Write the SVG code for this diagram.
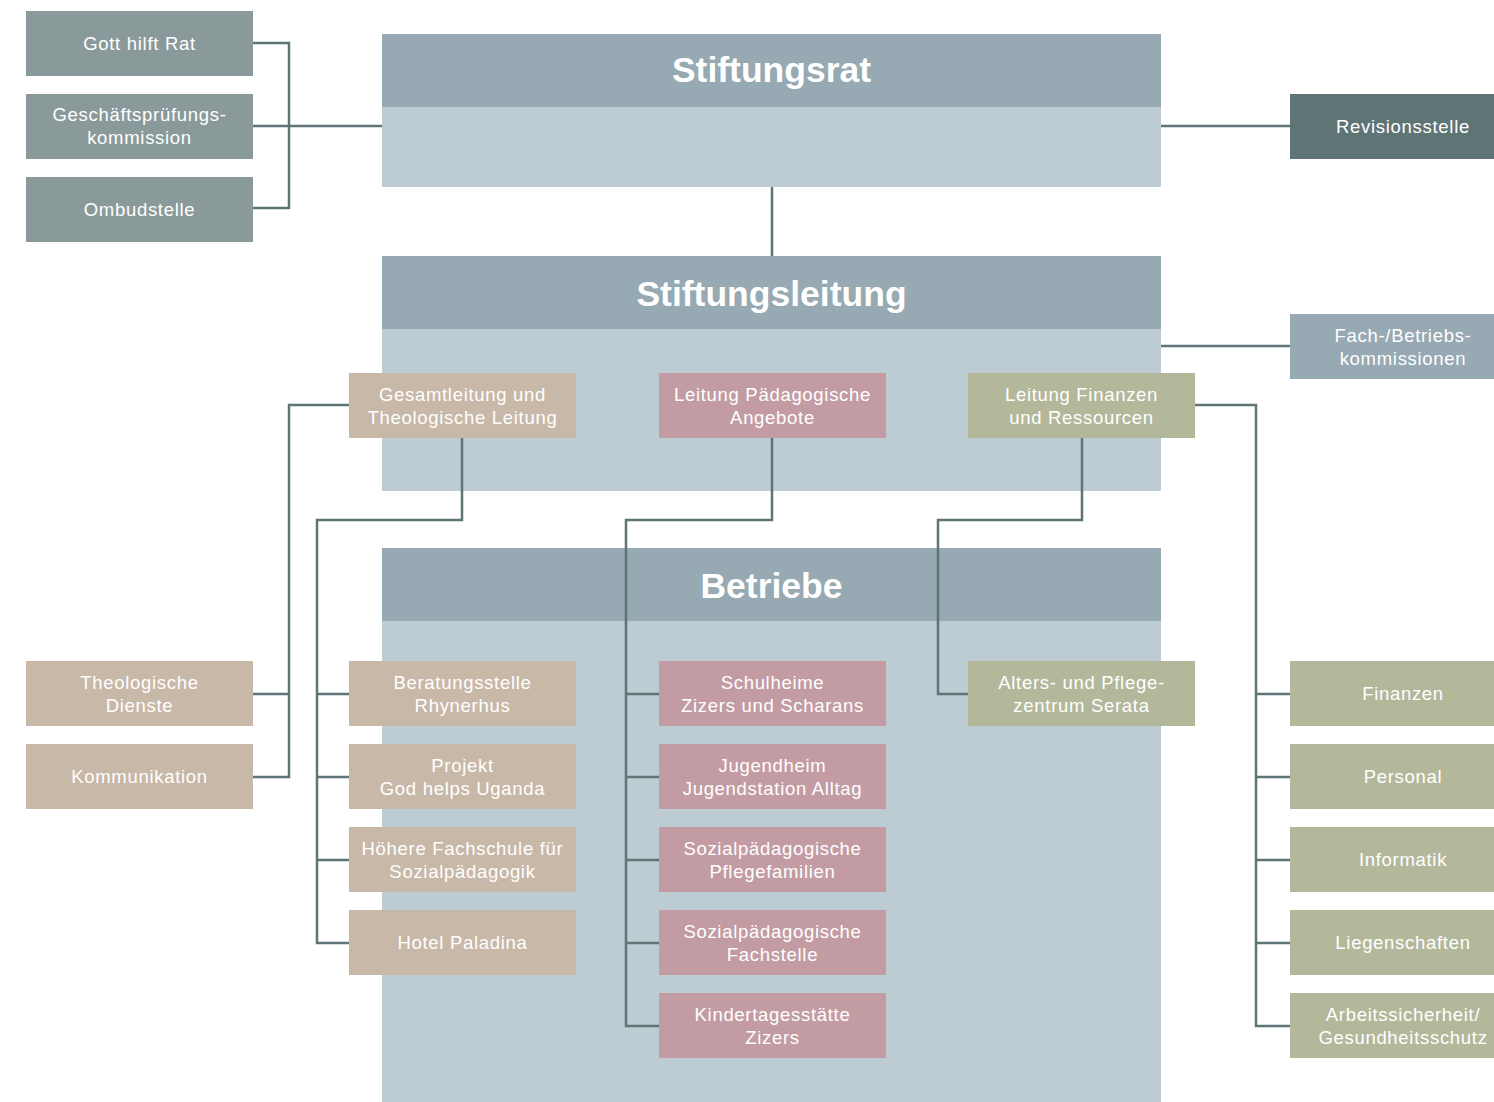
<svg xmlns="http://www.w3.org/2000/svg" width="1494" height="1102" viewBox="0 0 1494 1102">
<style>
.t{font-family:"Liberation Sans",Arial,sans-serif;font-size:18.5px;fill:#ffffff;text-anchor:middle;letter-spacing:0.7px}
.h{font-family:"Liberation Sans",Arial,sans-serif;font-size:35.5px;font-weight:bold;fill:#ffffff;text-anchor:middle}
.hd{fill:#97a9b2}.bd{fill:#bdcbd3}
.g{fill:#8a9a9b}.b{fill:#c8b8a8}.p{fill:#c39ca3}.o{fill:#b3b89b}.d{fill:#5f7475}.f{fill:#97a9b2}
.c{fill:none;stroke:#5f7475;stroke-width:2.5}
</style>
<rect width="1494" height="1102" fill="#ffffff"/>
<g id="stiftungsrat"><rect class="bd" x="382" y="34" width="779" height="153"/><rect class="hd" x="382" y="34" width="779" height="73"/><text class="h" x="771.5" y="82">Stiftungsrat</text></g>
<g id="stiftungsleitung"><rect class="bd" x="382" y="256" width="779" height="235"/><rect class="hd" x="382" y="256" width="779" height="73"/><text class="h" x="771.5" y="306">Stiftungsleitung</text></g>
<g id="betriebe"><rect class="bd" x="382" y="548" width="779" height="554"/><rect class="hd" x="382" y="548" width="779" height="73"/><text class="h" x="771.5" y="598">Betriebe</text></g>
<g id="connectors">
<path class="c" d="M253 43H289V208H253M253 126H382"/>
<path class="c" d="M1161 126H1290M1161 346H1290M772 187V256"/>
<path class="c" d="M349 405H289V777H253M289 694H253"/>
<path class="c" d="M462 438V520H317V943H349M317 694H349M317 777H349M317 860H349"/>
<path class="c" d="M772 438V520H626V1026H659M626 694H659M626 777H659M626 860H659M626 943H659"/>
<path class="c" d="M1082 438V520H938V694H968"/>
<path class="c" d="M1195 405H1256V1026H1290M1256 694H1290M1256 777H1290M1256 860H1290M1256 943H1290"/>
</g>
<g id="gott-hilft-rat"><rect class="g" x="26" y="11" width="227" height="65"/><text class="t" x="139.5" y="50">Gott hilft Rat</text></g>
<g id="gpk"><rect class="g" x="26" y="94" width="227" height="65"/><text class="t" x="139.5" y="121">Geschäftsprüfungs-</text><text class="t" x="139.5" y="144">kommission</text></g>
<g id="ombudstelle"><rect class="g" x="26" y="177" width="227" height="65"/><text class="t" x="139.5" y="216">Ombudstelle</text></g>
<g id="revisionsstelle"><rect class="d" x="1290" y="94" width="204" height="65"/><text class="t" x="1403" y="133">Revisionsstelle</text></g>
<g id="fachkommissionen"><rect class="f" x="1290" y="314" width="204" height="65"/><text class="t" x="1403" y="342">Fach-/Betriebs-</text><text class="t" x="1403" y="365">kommissionen</text></g>
<g id="gesamtleitung"><rect class="b" x="349" y="373" width="227" height="65"/><text class="t" x="462.5" y="401">Gesamtleitung und</text><text class="t" x="462.5" y="424">Theologische Leitung</text></g>
<g id="leitung-paed"><rect class="p" x="659" y="373" width="227" height="65"/><text class="t" x="772.5" y="401">Leitung Pädagogische</text><text class="t" x="772.5" y="424">Angebote</text></g>
<g id="leitung-finanzen"><rect class="o" x="968" y="373" width="227" height="65"/><text class="t" x="1081.5" y="401">Leitung Finanzen</text><text class="t" x="1081.5" y="424">und Ressourcen</text></g>
<g id="theologische-dienste"><rect class="b" x="26" y="661" width="227" height="65"/><text class="t" x="139.5" y="689">Theologische</text><text class="t" x="139.5" y="712">Dienste</text></g>
<g id="kommunikation"><rect class="b" x="26" y="744" width="227" height="65"/><text class="t" x="139.5" y="783">Kommunikation</text></g>
<g id="beratungsstelle"><rect class="b" x="349" y="661" width="227" height="65"/><text class="t" x="462.5" y="689">Beratungsstelle</text><text class="t" x="462.5" y="712">Rhynerhus</text></g>
<g id="projekt"><rect class="b" x="349" y="744" width="227" height="65"/><text class="t" x="462.5" y="772">Projekt</text><text class="t" x="462.5" y="795">God helps Uganda</text></g>
<g id="hoehere-fachschule"><rect class="b" x="349" y="827" width="227" height="65"/><text class="t" x="462.5" y="855">Höhere Fachschule für</text><text class="t" x="462.5" y="878">Sozialpädagogik</text></g>
<g id="hotel-paladina"><rect class="b" x="349" y="910" width="227" height="65"/><text class="t" x="462.5" y="949">Hotel Paladina</text></g>
<g id="schulheime"><rect class="p" x="659" y="661" width="227" height="65"/><text class="t" x="772.5" y="689">Schulheime</text><text class="t" x="772.5" y="712">Zizers und Scharans</text></g>
<g id="jugendheim"><rect class="p" x="659" y="744" width="227" height="65"/><text class="t" x="772.5" y="772">Jugendheim</text><text class="t" x="772.5" y="795">Jugendstation Alltag</text></g>
<g id="pflegefamilien"><rect class="p" x="659" y="827" width="227" height="65"/><text class="t" x="772.5" y="855">Sozialpädagogische</text><text class="t" x="772.5" y="878">Pflegefamilien</text></g>
<g id="fachstelle"><rect class="p" x="659" y="910" width="227" height="65"/><text class="t" x="772.5" y="938">Sozialpädagogische</text><text class="t" x="772.5" y="961">Fachstelle</text></g>
<g id="kita"><rect class="p" x="659" y="993" width="227" height="65"/><text class="t" x="772.5" y="1021">Kindertagesstätte</text><text class="t" x="772.5" y="1044">Zizers</text></g>
<g id="serata"><rect class="o" x="968" y="661" width="227" height="65"/><text class="t" x="1081.5" y="689">Alters- und Pflege-</text><text class="t" x="1081.5" y="712">zentrum Serata</text></g>
<g id="finanzen"><rect class="o" x="1290" y="661" width="204" height="65"/><text class="t" x="1403" y="700">Finanzen</text></g>
<g id="personal"><rect class="o" x="1290" y="744" width="204" height="65"/><text class="t" x="1403" y="783">Personal</text></g>
<g id="informatik"><rect class="o" x="1290" y="827" width="204" height="65"/><text class="t" x="1403" y="866">Informatik</text></g>
<g id="liegenschaften"><rect class="o" x="1290" y="910" width="204" height="65"/><text class="t" x="1403" y="949">Liegenschaften</text></g>
<g id="arbeitssicherheit"><rect class="o" x="1290" y="993" width="204" height="65"/><text class="t" x="1403" y="1021">Arbeitssicherheit/</text><text class="t" x="1403" y="1044">Gesundheitsschutz</text></g>
</svg>
